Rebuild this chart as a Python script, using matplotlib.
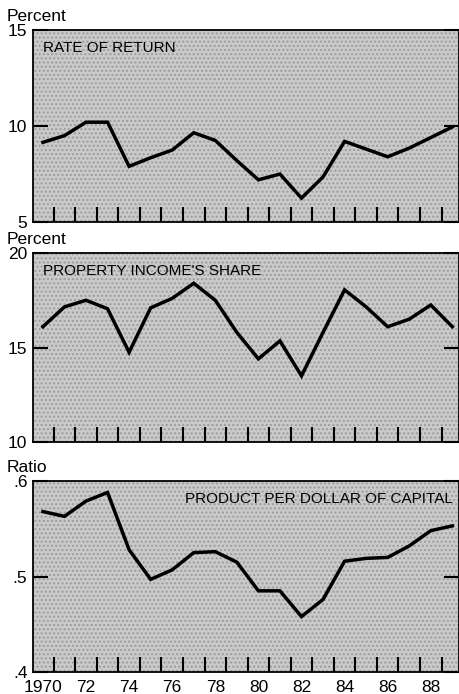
import matplotlib.pyplot as plt

years = list(range(1970, 1990))

rate_of_return = [9.15, 9.5, 10.2, 10.2, 7.9, 8.35, 8.75, 9.65, 9.25, 8.2,
                  7.2, 7.5, 6.25, 7.35, 9.2, 8.8, 8.4, 8.85, 9.4, 9.95]
property_share = [16.1, 17.15, 17.5, 17.05, 14.75, 17.1, 17.6, 18.4, 17.5, 15.8,
                  14.4, 15.35, 13.5, 15.8, 18.05, 17.15, 16.1, 16.5, 17.25, 16.1]
product_per_capital = [0.568, 0.563, 0.579, 0.588, 0.528, 0.497, 0.507, 0.525, 0.526, 0.515,
                       0.485, 0.485, 0.458, 0.476, 0.516, 0.519, 0.520, 0.532, 0.548, 0.553]

xtick_pos = [1970, 1972, 1974, 1976, 1978, 1980, 1982, 1984, 1986, 1988]
xtick_lab = ["1970", "72", "74", "76", "78", "80", "82", "84", "86", "88"]

plt.rcParams['font.family'] = ['Liberation Sans', 'DejaVu Sans']
narrow = ['Liberation Sans Narrow', 'Liberation Sans', 'DejaVu Sans']

fig = plt.figure(figsize=(4.6, 6.94), dpi=100)

panels = [
    # bottom, top, data, ylim, yticks, ylabels, unit, title, title x, align
    (0.680, 0.9568, rate_of_return, (5, 15), [5, 10, 15], ["5", "10", "15"],
     "Percent", "RATE OF RETURN", 0.024, 'left'),
    (0.3631, 0.6354, property_share, (10, 20), [10, 15, 20], ["10", "15", "20"],
     "Percent", "PROPERTY INCOME'S SHARE", 0.024, 'left'),
    (0.0317, 0.3069, product_per_capital, (0.4, 0.6), [0.4, 0.5, 0.6], [".4", ".5", ".6"],
     "Ratio", "PRODUCT PER DOLLAR OF CAPITAL", 0.985, 'right'),
]

left = 33 / 460
right = 459 / 460

for i, (b, t, data, ylim, yt, yl, unit, title, tx, ha) in enumerate(panels):
    ax = fig.add_axes([left, b, right - left, t - b])
    ax.set_facecolor('#cacaca')
    ax.patch.set_hatch('....')
    ax.patch.set_edgecolor('#9c9c9c')
    ax.patch.set_linewidth(0)
    ax.plot(years, data, color='black', lw=2.5, solid_joinstyle='miter')
    ax.set_xlim(1969.54, 1989.31)
    ax.set_ylim(*ylim)

    for s in ax.spines.values():
        s.set_linewidth(1.3)
        s.set_color('black')

    # minor ticks at year boundaries pointing up from the bottom
    ax.set_xticks([y + 0.5 for y in years[:-1]], minor=True)
    ax.tick_params(axis='x', which='minor', direction='in', length=11, width=1.5,
                   bottom=True, top=False)
    ax.set_xticks(xtick_pos)
    if i == 2:
        ax.set_xticklabels(xtick_lab, fontsize=12.5)
        ax.tick_params(axis='x', which='major', length=0, pad=6)
    else:
        ax.set_xticklabels([])
        ax.tick_params(axis='x', which='major', length=0)

    ax.set_yticks(yt)
    ax.set_yticklabels(yl, fontsize=12.5)
    ax.tick_params(axis='y', direction='in', length=11, width=1.5,
                   left=True, right=True, pad=4)

    ax.text(-0.062, 1.03, unit, transform=ax.transAxes, fontsize=12.5,
            ha='left', va='bottom')
    ax.text(tx, 0.905, title, transform=ax.transAxes, fontsize=11,
            family=narrow, ha=ha, va='center')

fig.savefig('out.png', dpi=100)
